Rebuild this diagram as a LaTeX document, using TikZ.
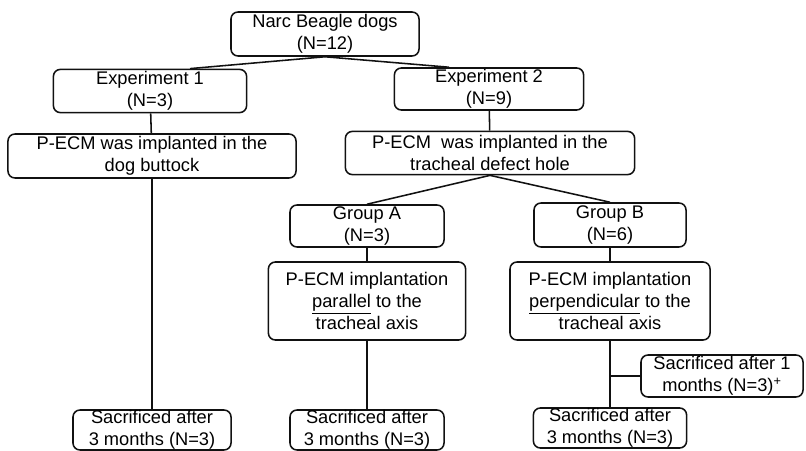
\documentclass[tikz,border=0pt]{standalone}
\usepackage{fontspec}
\setmainfont{Liberation Sans}
\usepackage{tikz}
\usetikzlibrary{positioning}
\usepackage{xcolor}
\definecolor{inkgray}{HTML}{111111}

\begin{document}
\begin{tikzpicture}[x=0.025cm,y=-0.025cm,
    box/.style={draw=inkgray,line width=1.1pt,rounded corners=5pt,align=center,
      inner sep=0pt,font=\fontsize{13}{15.5}\selectfont},
    link/.style={draw=inkgray,line width=1.1pt}]
  \useasboundingbox (0,0) rectangle (806,451);
  % top level
  \node[box,minimum width=4.7cm,minimum height=1.1cm] (root) at (325,34) {Narc Beagle dogs\\(N=12)};
  \node[box,minimum width=4.83cm,minimum height=1.08cm] (exp1) at (150,91) {Experiment 1\\(N=3)};
  \node[box,minimum width=4.73cm,minimum height=1.05cm] (exp2) at (489,89) {Experiment 2\\(N=9)};
  % implantation site
  \node[box,minimum width=7.2cm,minimum height=1.1cm] (site1) at (152,156) {P-ECM was implanted in the\\dog buttock};
  \node[box,minimum width=7.23cm,minimum height=1.08cm] (site2) at (490,153) {P-ECM\ \ was implanted in the\\tracheal defect hole};
  % groups
  \node[box,minimum width=3.85cm,minimum height=1.05cm] (grpA) at (367,226) {Group A\\(N=3)};
  \node[box,minimum width=3.8cm,minimum height=1.1cm] (grpB) at (610,225) {Group B\\(N=6)};
  \node[box,minimum width=4.93cm,minimum height=1.95cm] (para) at (367,301) {P-ECM implantation\\\underline{parallel} to the\\tracheal axis};
  \node[box,minimum width=5cm,minimum height=1.95cm] (perp) at (610,301) {P-ECM implantation\\\underline{perpendicular} to the\\tracheal axis};
  % sacrifice
  \node[box,minimum width=4.05cm,minimum height=1.05cm] (sacE) at (722,376) {Sacrificed after 1\\months (N=3)\textsuperscript{+}};
  \node[box,minimum width=3.95cm,minimum height=1cm] (sac1) at (152,430) {Sacrificed after\\3 months (N=3)};
  \node[box,minimum width=3.85cm,minimum height=1cm] (sacA) at (367,430) {Sacrificed after\\3 months (N=3)};
  \node[box,minimum width=3.83cm,minimum height=1cm] (sacB) at (610,428) {Sacrificed after\\3 months (N=3)};
  \coordinate (br) at (sacE.west -| perp.south);

  \draw[link] (root.south) -- ([xshift=1cm]exp1.north);
  \draw[link] (root.south) -- ([xshift=-1cm]exp2.north);
  \draw[link] (exp1) -- (site1);
  \draw[link] (exp2) -- (site2);
  \draw[link] (site1) -- (sac1);
  \draw[link] (site2.south) -- (grpA.north);
  \draw[link] (site2.south) -- (grpB.north);
  \draw[link] (grpA) -- (para);
  \draw[link] (grpB) -- (perp);
  \draw[link] (para) -- (sacA);
  \draw[link] (perp) -- (sacB);
  \draw[link] (br) -- (sacE.west);
\end{tikzpicture}
\end{document}
